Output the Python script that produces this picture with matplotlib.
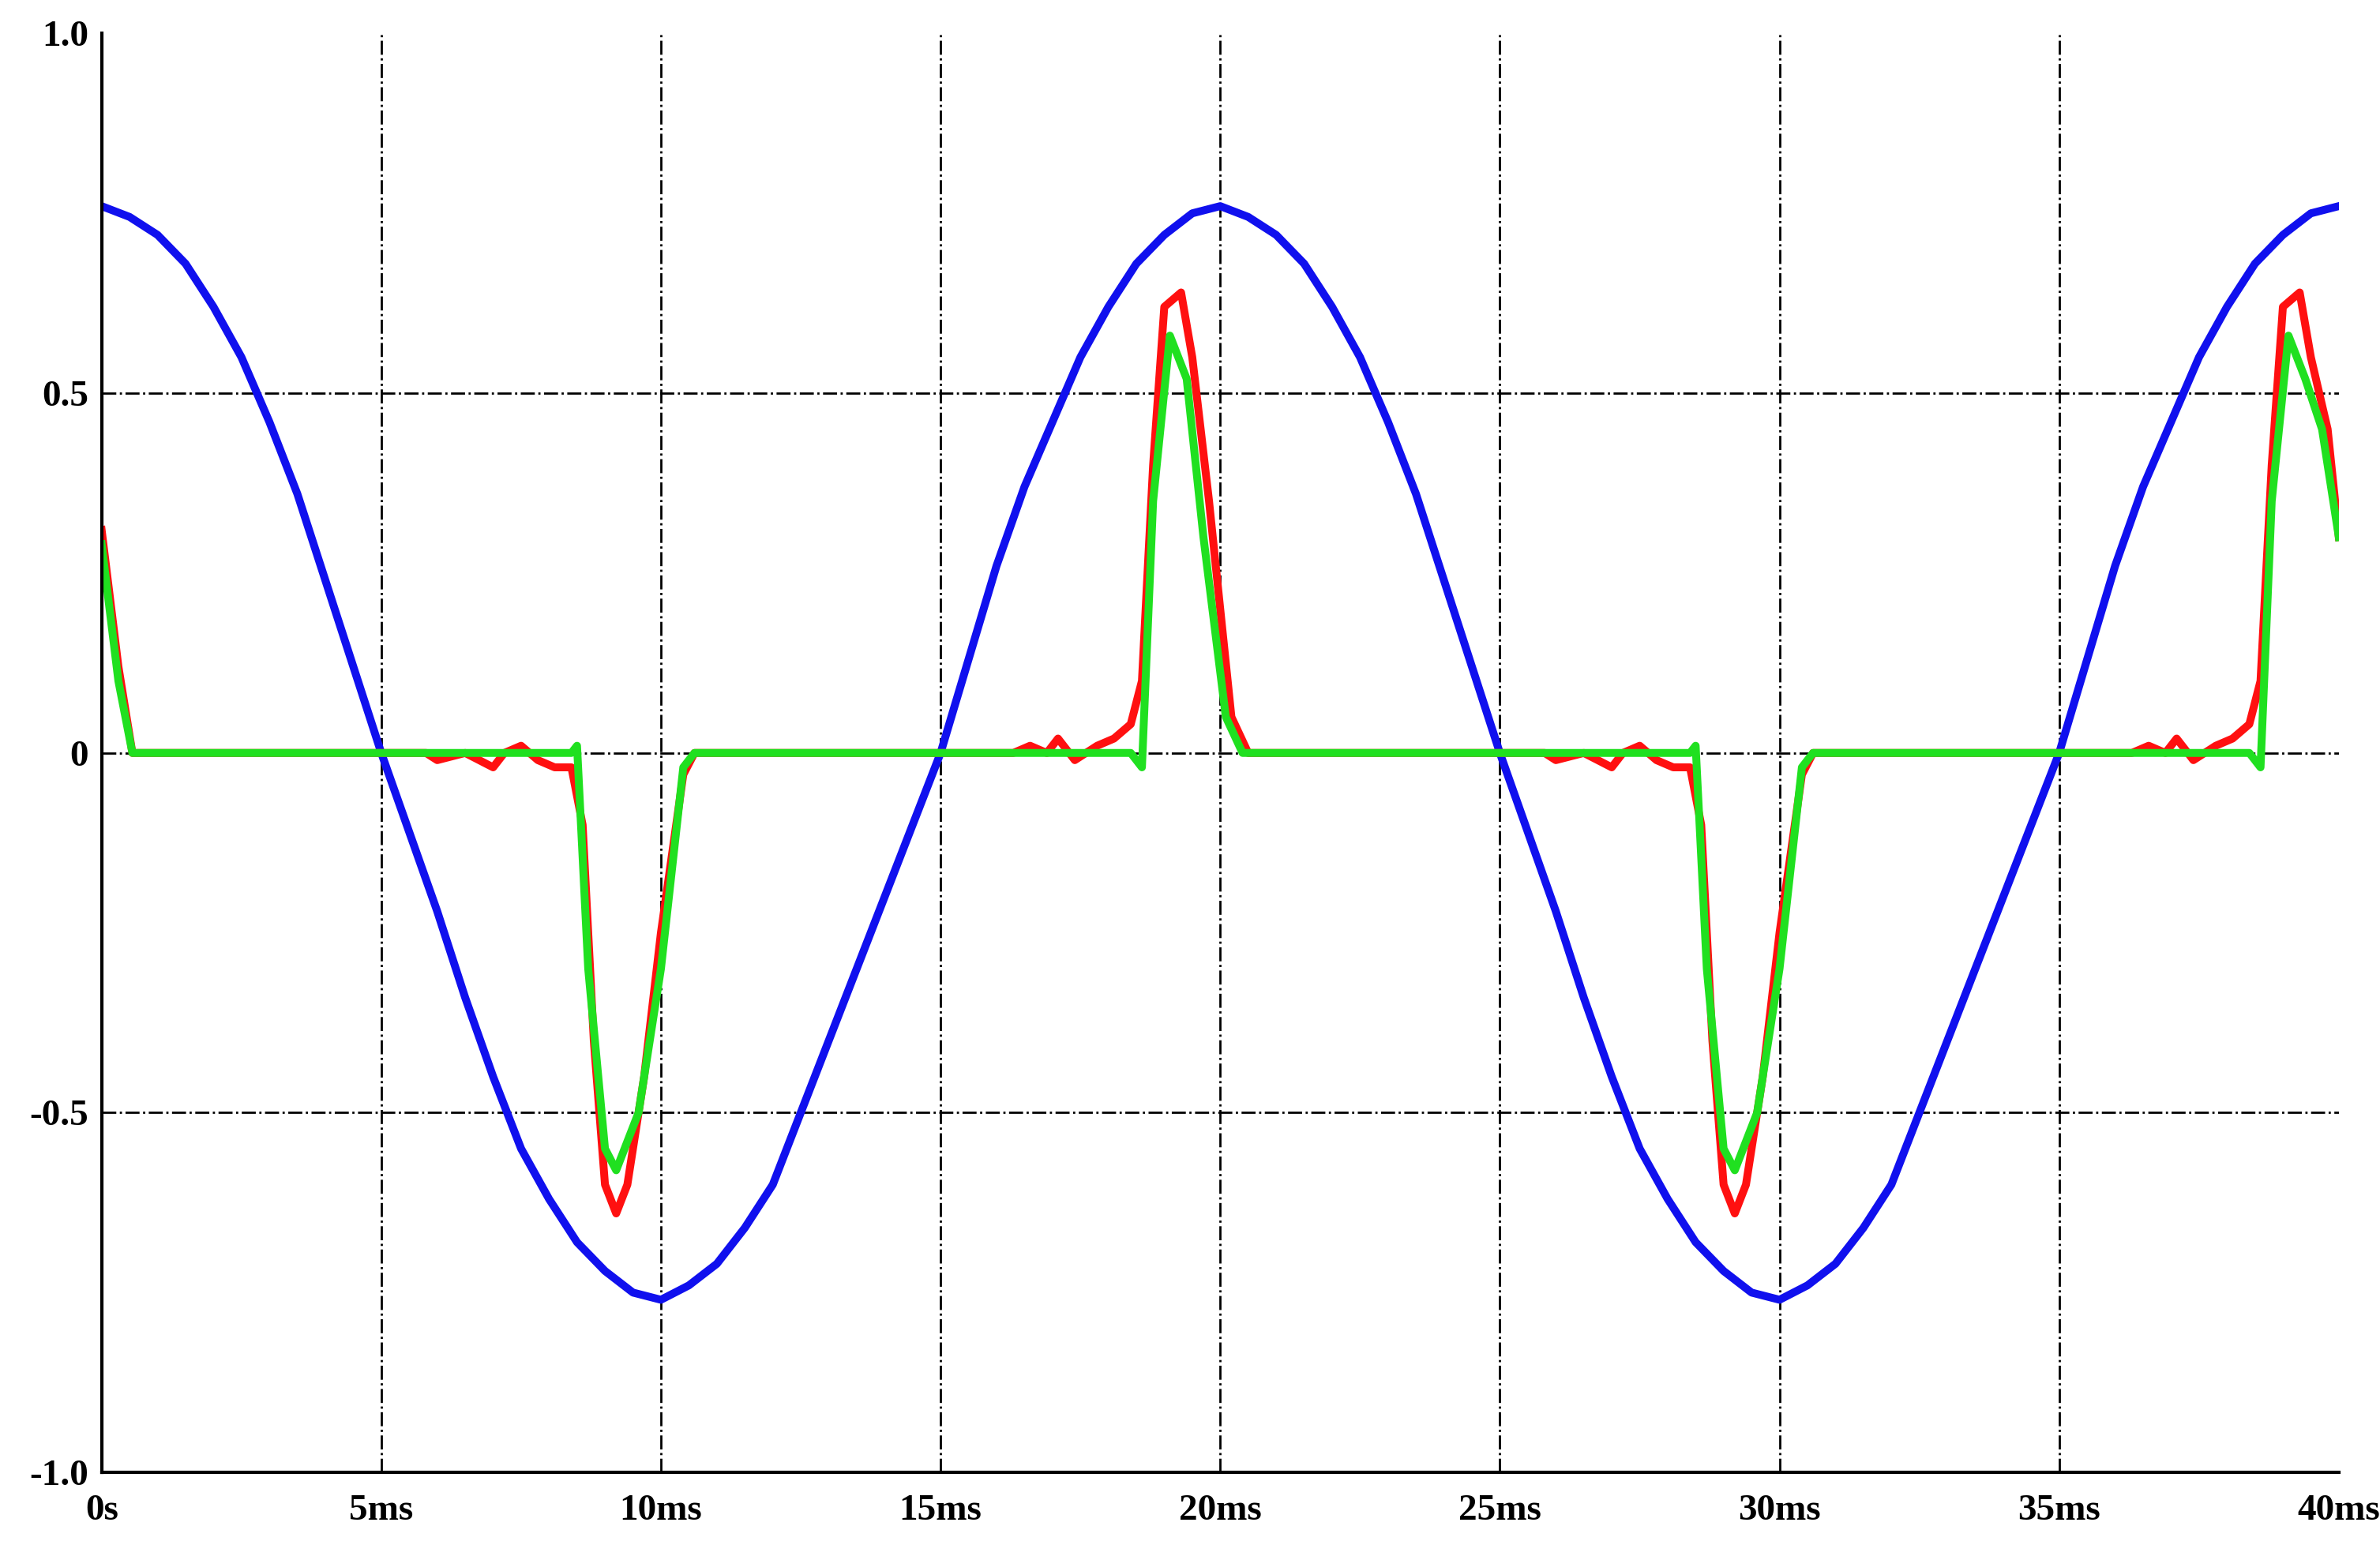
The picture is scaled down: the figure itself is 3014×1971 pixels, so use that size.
import matplotlib
matplotlib.use("Agg")
import matplotlib.pyplot as plt

# time in ms
t_blue = [0,0.5,1,1.5,2,2.5,3,3.5,4,4.5,5,5.5,6,6.5,7,7.5,8,8.5,9,9.5,10,
          10.5,11,11.5,12,12.5,13,13.5,14,14.5,15,15.5,16,16.5,17,17.5,18,18.5,19,19.5,20,
          20.5,21,21.5,22,22.5,23,23.5,24,24.5,25,25.5,26,26.5,27,27.5,28,28.5,29,29.5,30,
          30.5,31,31.5,32,32.5,33,33.5,34,34.5,35,35.5,36,36.5,37,37.5,38,38.5,39,39.5,40]
v_blue = [0.76,0.745,0.72,0.68,0.62,0.55,0.46,0.36,0.24,0.12,0.0,-0.11,-0.22,-0.34,-0.45,-0.55,-0.62,-0.68,-0.72,-0.75,-0.76,
          -0.74,-0.71,-0.66,-0.6,-0.5,-0.4,-0.3,-0.2,-0.1,0.0,0.13,0.26,0.37,0.46,0.55,0.62,0.68,0.72,0.75,0.76,
          0.745,0.72,0.68,0.62,0.55,0.46,0.36,0.24,0.12,0.0,-0.11,-0.22,-0.34,-0.45,-0.55,-0.62,-0.68,-0.72,-0.75,-0.76,
          -0.74,-0.71,-0.66,-0.6,-0.5,-0.4,-0.3,-0.2,-0.1,0.0,0.13,0.26,0.37,0.46,0.55,0.62,0.68,0.72,0.75,0.76]

t_red = [0,0.3,0.55,3,5.8,6,6.5,7,7.2,7.5,7.8,8.1,8.4,8.6,8.8,9.0,9.2,9.4,9.7,10.0,10.4,10.6,
         15.5,16.3,16.6,16.9,17.1,17.4,17.8,18.1,18.4,18.6,18.8,19.0,19.3,19.5,19.8,20.2,20.5,
         23,25.8,26,26.5,27,27.2,27.5,27.8,28.1,28.4,28.6,28.8,29.0,29.2,29.4,29.7,30.0,30.4,30.6,
         35.5,36.3,36.6,36.9,37.1,37.4,37.8,38.1,38.4,38.6,38.8,39.0,39.3,39.5,39.8,40]
v_red = [0.31,0.12,0.0,0.0,0.0,-0.01,0.0,-0.02,0.0,0.01,-0.01,-0.02,-0.02,-0.1,-0.4,-0.6,-0.64,-0.6,-0.45,-0.25,-0.03,0.0,
         0.0,0.0,0.01,0.0,0.02,-0.01,0.01,0.02,0.04,0.1,0.4,0.62,0.64,0.55,0.35,0.05,0.0,
         0.0,0.0,-0.01,0.0,-0.02,0.0,0.01,-0.01,-0.02,-0.02,-0.1,-0.4,-0.6,-0.64,-0.6,-0.45,-0.25,-0.03,0.0,
         0.0,0.0,0.01,0.0,0.02,-0.01,0.01,0.02,0.04,0.1,0.4,0.62,0.64,0.55,0.45,0.3]

t_green = [0,0.3,0.55,8.4,8.5,8.7,9.0,9.2,9.6,10.0,10.4,10.6,18.4,18.6,18.8,19.1,19.4,19.7,20.1,20.4,
           28.4,28.5,28.7,29.0,29.2,29.6,30.0,30.4,30.6,38.4,38.6,38.8,39.1,39.4,39.7,40]
v_green = [0.29,0.1,0.0,0.0,0.01,-0.3,-0.55,-0.58,-0.5,-0.3,-0.02,0.0,0.0,-0.02,0.35,0.58,0.52,0.3,0.05,0.0,
           0.0,0.01,-0.3,-0.55,-0.58,-0.5,-0.3,-0.02,0.0,0.0,-0.02,0.35,0.58,0.52,0.45,0.3]

xticks = [0,5,10,15,20,25,30,35,40]
xlabels = ["0s","5ms","10ms","15ms","20ms","25ms","30ms","35ms","40ms"]
yticks = [-1.0,-0.5,0,0.5,1.0]
ylabels = ["-1.0","-0.5","0","0.5","1.0"]

fig = plt.figure(figsize=(15.07,9.855), dpi=200)
ax = fig.add_axes([0.0427,0.0537,0.9400,0.9248])
for x in xticks[1:-1]:
    ax.axvline(x, color="black", linestyle="-.", lw=1.0, zorder=0)
for y in yticks[1:-1]:
    ax.axhline(y, color="black", linestyle="-.", lw=1.0, zorder=0)
ax.plot(t_blue, v_blue, color="#1010ee", lw=3.6)
ax.plot(t_red, v_red, color="#ff1010", lw=3.6)
ax.plot(t_green, v_green, color="#20e020", lw=3.6)
ax.set_xlim(0,40); ax.set_ylim(-1,1)
ax.set_xticks(xticks); ax.set_xticklabels(xlabels)
ax.set_yticks(yticks); ax.set_yticklabels(ylabels)
for lab in ax.get_xticklabels()+ax.get_yticklabels():
    lab.set_fontfamily("Liberation Serif"); lab.set_fontweight("bold"); lab.set_fontsize(17)
ax.tick_params(length=0)
ax.tick_params(axis="x", pad=10)
ax.tick_params(axis="y", pad=6)
ax.spines["top"].set_visible(False); ax.spines["right"].set_visible(False)
ax.spines["left"].set_linewidth(1.5); ax.spines["bottom"].set_linewidth(1.5)
fig.savefig("out.png", dpi=200)
